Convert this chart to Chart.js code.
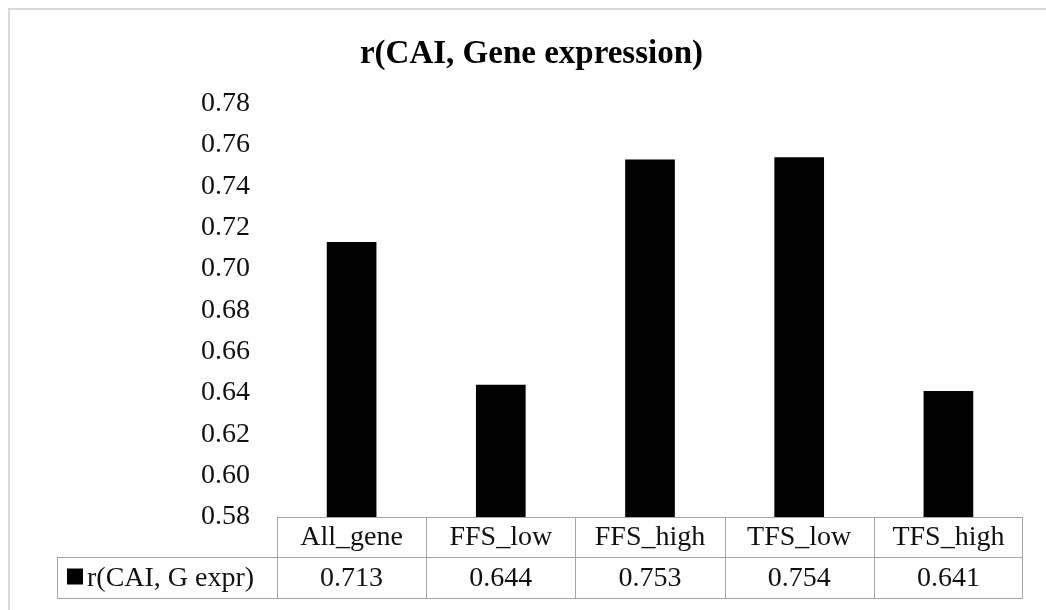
<!DOCTYPE html>
<html>
<head>
<meta charset="utf-8">
<script src="https://cdn.jsdelivr.net/npm/chart.js@4/dist/chart.umd.min.js"></script>
<style>
  html, body { margin: 0; padding: 0; background: #fff; }
  #wrap { width: 1046px; height: 610px; }
</style>
</head>
<body>
<div id="wrap"><canvas id="chart" width="1046" height="610"></canvas></div>
<script>
// data
const categories = ['All_gene', 'FFS_low', 'FFS_high', 'TFS_low', 'TFS_high'];
const seriesName = 'r(CAI, G expr)';
const values = [0.713, 0.644, 0.753, 0.754, 0.641];
const yTicks = [0.58, 0.60, 0.62, 0.64, 0.66, 0.68, 0.70, 0.72, 0.74, 0.76, 0.78];
const chartTitle = 'r(CAI, Gene expression)';

const SERIF = "'Liberation Serif', 'Times New Roman', serif";
const TEXT = '#111';
const LINE = '#a6a6a6';

Chart.defaults.font.family = SERIF;
Chart.defaults.color = TEXT;

// fundo branco + moldura cinza do gráfico
const frame = {
  id: 'frame',
  beforeDraw(chart) {
    const { ctx, width, height } = chart;
    ctx.save();
    ctx.fillStyle = '#fff';
    ctx.fillRect(0, 0, width, height);
    ctx.strokeStyle = '#d9d9d9';
    ctx.lineWidth = 2;
    ctx.beginPath();
    ctx.moveTo(9, height);
    ctx.lineTo(9, 9);
    ctx.lineTo(width, 9);
    ctx.stroke();
    ctx.restore();
  }
};

// tabela de dados abaixo do eixo (categorias + valores)
const dataTable = {
  id: 'dataTable',
  afterDraw(chart) {
    const { ctx, chartArea } = chart;
    const x = chart.scales.x;
    const n = categories.length;
    const half = (chartArea.right - chartArea.left) / n / 2;
    const top = chartArea.bottom;
    const row1 = top + 40;
    const row2 = row1 + 41;
    const tableLeft = 57;

    ctx.save();
    ctx.strokeStyle = LINE;
    ctx.lineWidth = 1;
    ctx.beginPath();
    // linhas horizontais
    ctx.moveTo(chartArea.left, top + 0.5);
    ctx.lineTo(chartArea.right, top + 0.5);
    ctx.moveTo(tableLeft, row1 + 0.5);
    ctx.lineTo(chartArea.right, row1 + 0.5);
    ctx.moveTo(tableLeft, row2 + 0.5);
    ctx.lineTo(chartArea.right, row2 + 0.5);
    // linhas verticais
    ctx.moveTo(tableLeft + 0.5, row1);
    ctx.lineTo(tableLeft + 0.5, row2);
    for (let i = 0; i < n; i++) {
      const edge = Math.round(x.getPixelForValue(i) - half) + 0.5;
      ctx.moveTo(edge, top);
      ctx.lineTo(edge, row2);
    }
    const lastEdge = Math.round(x.getPixelForValue(n - 1) + half) - 0.5;
    ctx.moveTo(lastEdge, top);
    ctx.lineTo(lastEdge, row2);
    ctx.stroke();

    ctx.fillStyle = TEXT;
    ctx.font = '28px ' + SERIF;
    ctx.textAlign = 'center';
    ctx.textBaseline = 'middle';
    categories.forEach((c, i) => {
      const cx = x.getPixelForValue(i);
      ctx.fillText(c, cx, (top + row1) / 2 + 1);
      ctx.fillText(values[i].toFixed(3), cx, (row1 + row2) / 2 + 1);
    });

    // legenda na primeira coluna
    ctx.fillStyle = '#000';
    ctx.fillRect(67, (row1 + row2) / 2 - 9, 16, 16);
    ctx.fillStyle = TEXT;
    ctx.textAlign = 'left';
    ctx.fillText(seriesName, 87, (row1 + row2) / 2 + 1);
    ctx.restore();
  }
};

new Chart(document.getElementById('chart'), {
  type: 'bar',
  data: {
    labels: categories,
    datasets: [{
      label: seriesName,
      data: values,
      backgroundColor: '#000',
      borderWidth: 0,
      categoryPercentage: 1,
      barPercentage: 0.333
    }]
  },
  options: {
    responsive: false,
    devicePixelRatio: 1,
    animation: false,
    layout: { padding: { top: 10, left: 40, right: 23, bottom: 93 } },
    plugins: {
      legend: { display: false },
      tooltip: { enabled: false },
      title: {
        display: true,
        text: chartTitle,
        color: '#000',
        font: { size: 33, weight: 'bold', family: SERIF, lineHeight: 1.2 },
        padding: { top: 25, bottom: 29 }
      }
    },
    scales: {
      x: {
        display: false,
        offset: true
      },
      y: {
        min: yTicks[0],
        max: yTicks[yTicks.length - 1],
        afterBuildTicks: s => { s.ticks = yTicks.map(v => ({ value: v })); },
        afterFit: s => { s.width = 237; },
        grid: { display: false, drawTicks: false },
        border: { display: false },
        ticks: {
          padding: 27,
          color: TEXT,
          font: { size: 28, family: SERIF },
          callback: v => Number(v).toFixed(2)
        }
      }
    }
  },
  plugins: [frame, dataTable]
});
</script>
</body>
</html>
